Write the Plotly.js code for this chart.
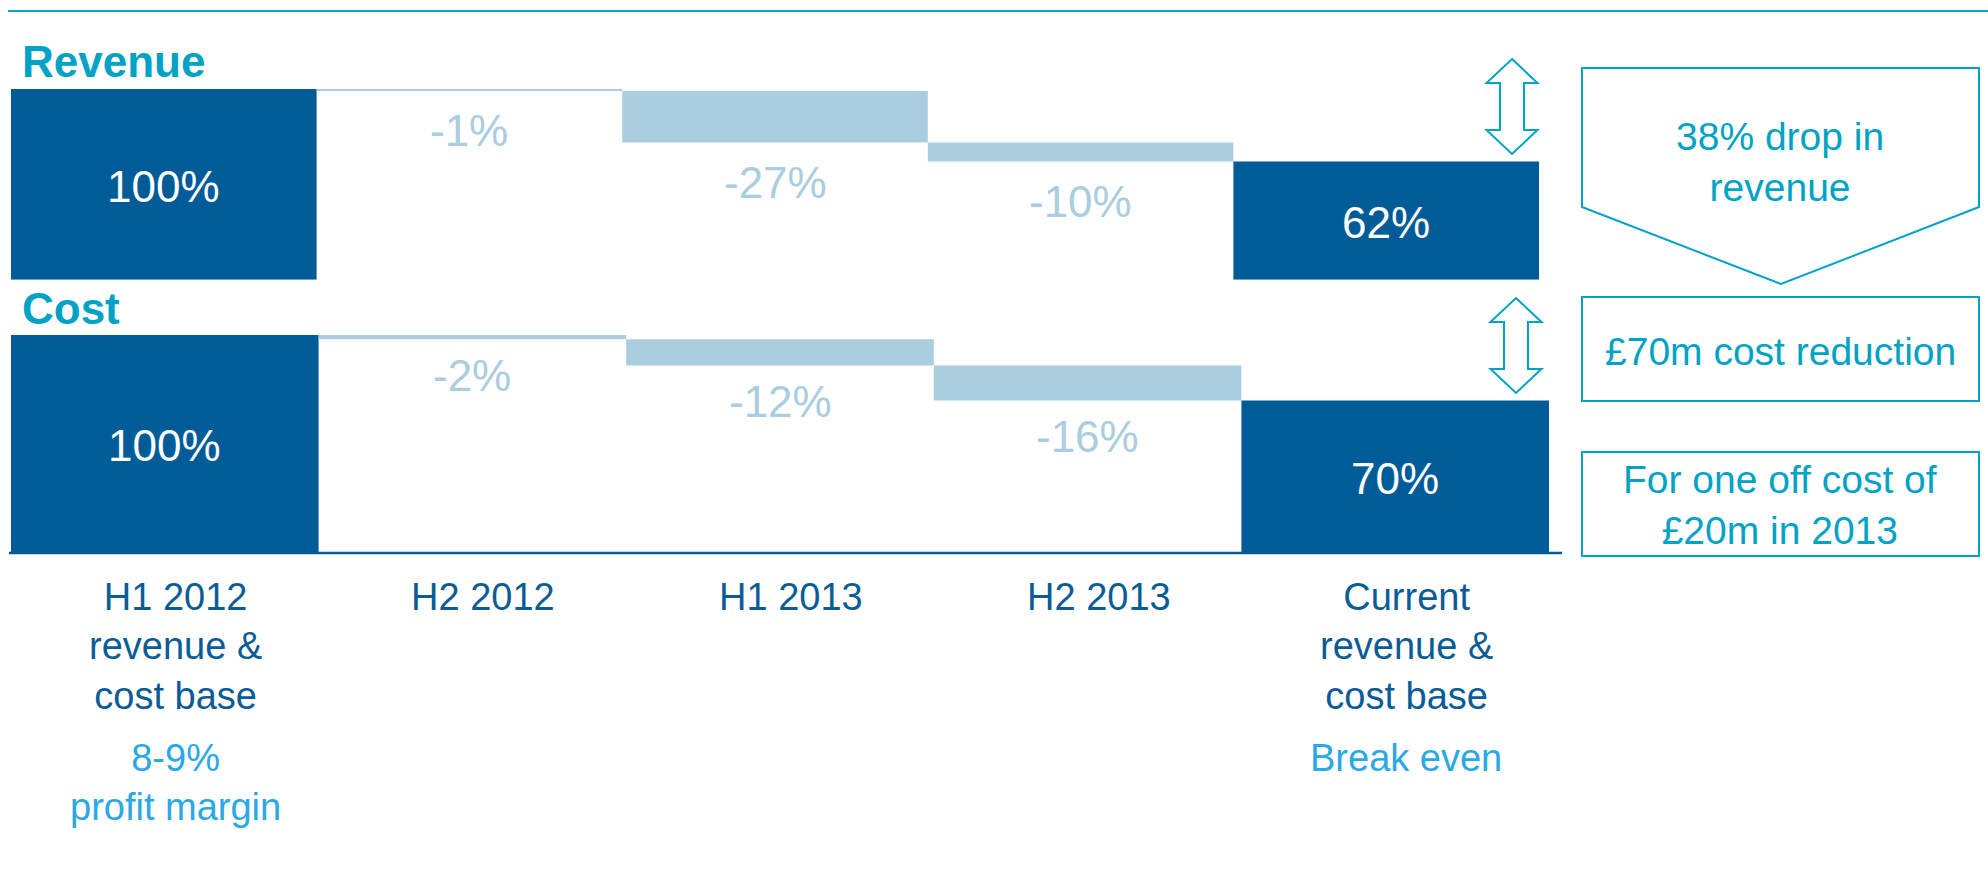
<!DOCTYPE html>
<html>
<head>
<meta charset="utf-8">
<script src="https://cdn.plot.ly/plotly-3.0.1.min.js"></script>
<style>
html,body{margin:0;padding:0;background:#fff;}
#chart{width:1988px;height:872px;}
</style>
</head>
<body>
<div id="chart"></div>
<script>
// ---- data ----
const categories = ['H1 2012', 'H2 2012', 'H1 2013', 'H2 2013', 'Current'];
const categoryLabels = ['H1 2012<br>revenue &<br>cost base', 'H2 2012', 'H1 2013', 'H2 2013', 'Current<br>revenue &<br>cost base'];
const subLabels = ['8-9%<br>profit margin', '', '', '', 'Break even'];
const measures = ['absolute', 'relative', 'relative', 'relative', 'total'];
const revenueValues = [100, -1, -27, -10, 62];
const costValues = [100, -2, -12, -16, 70];
const panelTitles = ['Revenue', 'Cost'];
const sideNotes = ['38% drop in<br>revenue', '£70m cost reduction', 'For one off cost of<br>£20m in 2013'];

// ---- style ----
const W = 1988, H = 872;
const FONT = 'Liberation Sans, Arial, Helvetica, sans-serif';
const TEAL = '#00a3c6';
const DARK = '#005c99';
const LIGHT = '#aacde0';
const LABEL_DARK = '#0a5c97';
const SKY = '#2aa9e6';
function px(x) { return x / W; }
function py(y) { return 1 - y / H; }

function waterfall(values, xa, ya) {
  return {
    type: 'waterfall',
    x: categories,
    y: values,
    measure: measures,
    xaxis: xa, yaxis: ya,
    decreasing: { marker: { color: LIGHT, line: { width: 0 } } },
    increasing: { marker: { color: LIGHT, line: { width: 0 } } },
    totals: { marker: { color: DARK, line: { width: 0 } } },
    connector: { visible: false },
    textinfo: 'none',
    hoverinfo: 'skip',
    showlegend: false
  };
}

// value labels computed from the data
function valueLabels(values, xa, ya, deltaOffset) {
  const ann = [];
  let run = 0;
  values.forEach((v, i) => {
    const m = measures[i];
    if (m === 'absolute') { run = v; }
    if (m === 'total') { v = run; }
    if (m === 'absolute' || m === 'total') {
      ann.push({ x: categories[i], y: run / 2, xref: xa, yref: ya, text: v + '%',
        showarrow: false, yanchor: 'middle', yshift: -2,
        font: { family: FONT, size: 44, color: '#ffffff' } });
    } else {
      run += v;
      ann.push({ x: categories[i], y: run, xref: xa, yref: ya, text: v + '%',
        showarrow: false, yanchor: 'middle', yshift: -deltaOffset,
        font: { family: FONT, size: 44, color: LIGHT } });
    }
  });
  return ann;
}

const traces = [waterfall(revenueValues, 'x', 'y'), waterfall(costValues, 'x2', 'y2')];

const hidden = { showgrid: false, zeroline: false, showticklabels: false, showline: false, ticks: '', fixedrange: true };

let annotations = [];
annotations = annotations.concat(valueLabels(revenueValues, 'x', 'y', 40));
annotations = annotations.concat(valueLabels(costValues, 'x2', 'y2', 36));

// panel titles
[[panelTitles[0], 61], [panelTitles[1], 308]].forEach(([t, yc]) => {
  annotations.push({ x: px(20), y: py(yc), xref: 'paper', yref: 'paper', text: '<b>' + t + '</b>',
    showarrow: false, xanchor: 'left', yanchor: 'middle',
    font: { family: FONT, size: 44, color: TEAL } });
});

// category labels
categories.forEach((c, i) => {
  annotations.push({ x: c, y: py(574), xref: 'x2', yref: 'paper', text: categoryLabels[i],
    showarrow: false, xanchor: 'center', yanchor: 'top', xshift: 11, align: 'center',
    font: { family: FONT, size: 38, color: LABEL_DARK } });
  if (subLabels[i]) {
    annotations.push({ x: c, y: py(735), xref: 'x2', yref: 'paper', text: subLabels[i],
      showarrow: false, xanchor: 'center', yanchor: 'top', xshift: 11, align: 'center',
      font: { family: FONT, size: 38, color: SKY } });
  }
});

// side notes
[[sideNotes[0], 162], [sideNotes[1], 351], [sideNotes[2], 505]].forEach(([t, yc]) => {
  annotations.push({ x: px(1780), y: py(yc), xref: 'paper', yref: 'paper', text: t,
    showarrow: false, xanchor: 'center', yanchor: 'middle', align: 'center',
    font: { family: FONT, size: 39, color: TEAL } });
});

function pathFrom(points) {
  return 'M ' + points.map(p => px(p[0]) + ',' + py(p[1])).join(' L ') + ' Z';
}
function arrow(cx, top, bottom) {
  const hw = 25.5, sw = 12, hh = 24;
  return pathFrom([
    [cx, top], [cx + hw, top + hh], [cx + sw, top + hh], [cx + sw, bottom - hh],
    [cx + hw, bottom - hh], [cx, bottom], [cx - hw, bottom - hh], [cx - sw, bottom - hh],
    [cx - sw, top + hh], [cx - hw, top + hh]
  ]);
}

const shapes = [
  { type: 'line', xref: 'paper', yref: 'paper', x0: px(8), x1: 1, y0: py(11), y1: py(11),
    line: { color: '#0aa6c8', width: 2 } },
  { type: 'line', xref: 'paper', yref: 'paper', x0: px(9), x1: px(1562), y0: py(553), y1: py(553),
    line: { color: DARK, width: 2.5 } },
  { type: 'path', xref: 'paper', yref: 'paper', path: arrow(1512, 59, 154),
    line: { color: TEAL, width: 2 }, fillcolor: '#ffffff' },
  { type: 'path', xref: 'paper', yref: 'paper', path: arrow(1516, 298, 393),
    line: { color: TEAL, width: 2 }, fillcolor: '#ffffff' },
  { type: 'path', xref: 'paper', yref: 'paper',
    path: pathFrom([[1582, 68], [1979, 68], [1979, 207], [1781, 284], [1582, 207]]),
    line: { color: TEAL, width: 2 }, fillcolor: 'rgba(0,0,0,0)' },
  { type: 'rect', xref: 'paper', yref: 'paper', x0: px(1582), x1: px(1979), y0: py(297), y1: py(401),
    line: { color: TEAL, width: 2 }, fillcolor: 'rgba(0,0,0,0)' },
  { type: 'rect', xref: 'paper', yref: 'paper', x0: px(1582), x1: px(1979), y0: py(452), y1: py(556),
    line: { color: TEAL, width: 2 }, fillcolor: 'rgba(0,0,0,0)' }
];

const layout = {
  width: W, height: H,
  margin: { l: 0, r: 0, t: 0, b: 0, pad: 0 },
  paper_bgcolor: '#ffffff', plot_bgcolor: 'rgba(0,0,0,0)',
  waterfallgap: 0,
  showlegend: false,
  xaxis: Object.assign({ domain: [px(11), px(1539)], range: [-0.5, 4.5], type: 'category', anchor: 'y' }, hidden),
  yaxis: Object.assign({ domain: [py(279.7), py(89)], range: [0, 100], anchor: 'x' }, hidden),
  xaxis2: Object.assign({ domain: [px(11), px(1549)], range: [-0.5, 4.5], type: 'category', anchor: 'y2' }, hidden),
  yaxis2: Object.assign({ domain: [py(553), py(335)], range: [0, 100], anchor: 'x2' }, hidden),
  annotations: annotations,
  shapes: shapes,
  font: { family: FONT }
};

Plotly.newPlot('chart', traces, layout, { staticPlot: true, displayModeBar: false });
</script>
</body>
</html>
